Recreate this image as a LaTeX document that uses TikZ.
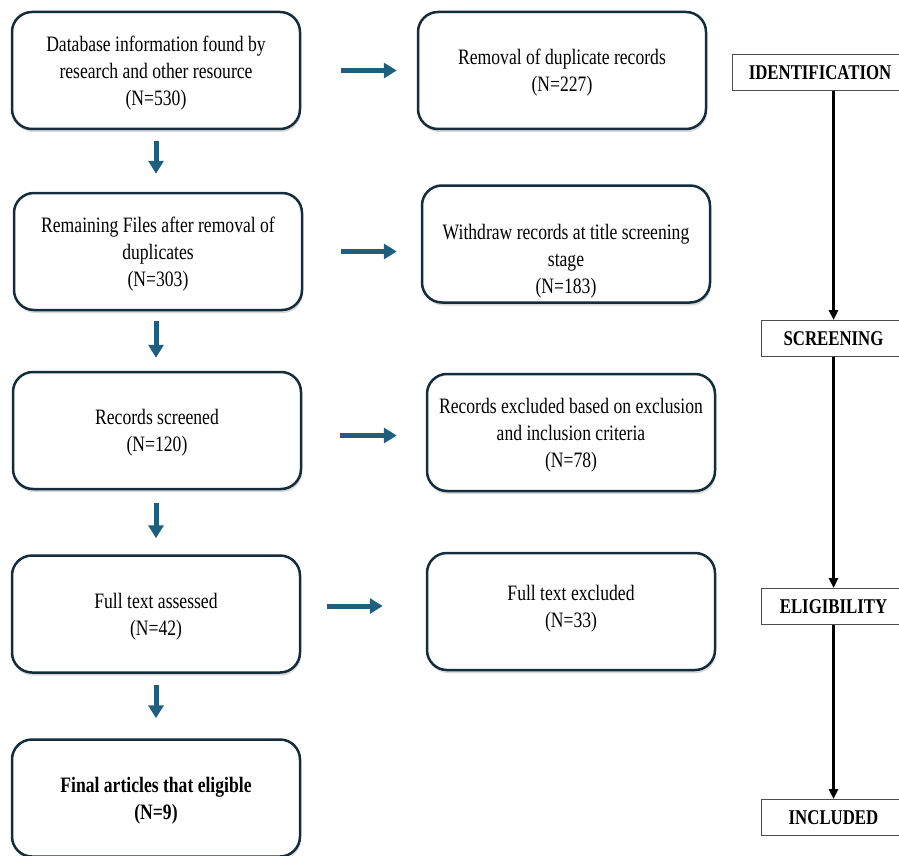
\documentclass[tikz,border=0pt]{standalone}
\usepackage{fontspec}
\setmainfont[FakeStretch=0.8]{Liberation Serif}
\usetikzlibrary{arrows.meta,shadows}
\definecolor{bordure}{RGB}{20,45,60}
\definecolor{bleu}{RGB}{30,95,128}

\begin{document}
\begin{tikzpicture}[x=1pt,y=-1pt]
\tikzstyle{fleche}=[line width=5pt,bleu,-{Triangle[length=13pt,width=15pt]}]
\tikzstyle{lien}=[line width=2.5pt,-{Triangle[length=10pt,width=9pt]}]
\tikzset{bloc/.style={draw=bordure,line width=2.5pt,rounded corners=20pt,fill=white,
minimum width=288pt,minimum height=117pt,align=center,text depth=-3pt,
font=\fontsize{22}{27}\selectfont,
drop shadow={shadow xshift=1pt,shadow yshift=-3pt,opacity=0.3}},
etape/.style={draw=black!70,line width=1pt,fill=white,minimum height=36pt,
font=\fontsize{21}{25}\selectfont\bfseries}}
\useasboundingbox (0,0) rectangle (899,856);

\node[bloc] (G1) at (156,70.5) {Database information found by\\research and other resource\\(N=530)};
\node[bloc] (G2) at (158,251.5) {Remaining Files after removal of\\duplicates\\(N=303)};
\node[bloc] (G3) at (157,430.5) {Records screened\\(N=120)};
\node[bloc] (G4) at (156,614) {Full text assessed\\(N=42)};
\node[bloc,font=\fontsize{22}{27}\selectfont\bfseries] (G5) at (156,798) {Final articles that eligible\\(N=9)};

\node[bloc] (D1) at (562,70.5) {Removal of duplicate records\\(N=227)};
\node[bloc,label={[align=center,font=\fontsize{22}{27}\selectfont,yshift=-17pt]center:{Withdraw records at title screening\\stage\\(N=183)}}] (D2) at (566,244) {};
\node[bloc,text depth=-11pt] (D3) at (571,432.5) {Records excluded based on exclusion\\and inclusion criteria\\(N=78)};
\node[bloc,text depth=11pt] (D4) at (571,611.5) {Full text excluded\\(N=33)};

\node[etape,minimum width=176pt] (E1) at (820,72.5) {IDENTIFICATION};
\node[etape,minimum width=145pt] (E2) at (833.5,338.5) {SCREENING};
\node[etape,minimum width=145pt] (E3) at (833.5,606.5) {ELIGIBILITY};
\node[etape,minimum width=145pt] (E4) at (833.5,817.5) {INCLUDED};

\draw[fleche,shorten <=40pt,shorten >=20pt] (G1.east) -- (D1.west);
\draw[fleche,shorten <=38pt,shorten >=24pt] (G2.east) -- (G2.east -| D2.west);
\draw[fleche,shorten <=38pt,shorten >=29pt] ([yshift=-5pt]G3.east) -- ([yshift=-5pt]G3.east -| D3.west);
\draw[fleche,shorten <=26pt,shorten >=43pt] ([yshift=8pt]G4.east) -- ([yshift=8pt]G4.east -| D4.west);

\draw[fleche,shorten <=11pt,shorten >=18pt] (G1.south) -- (G1.south |- G2.north);
\draw[fleche,shorten <=10pt,shorten >=13pt] (G2.south -| G1.south) -- (G1.south |- G3.north);
\draw[fleche,shorten <=13pt,shorten >=16pt] (G3.south -| G1.south) -- (G1.south |- G4.north);
\draw[fleche,shorten <=11pt,shorten >=20pt] (G4.south) -- (G5.north);

\draw[lien] (E2.north |- E1.south) -- (E2.north);
\draw[lien] (E2.south) -- (E3.north);
\draw[lien] (E3.south) -- (E4.north);

\end{tikzpicture}
\end{document}
